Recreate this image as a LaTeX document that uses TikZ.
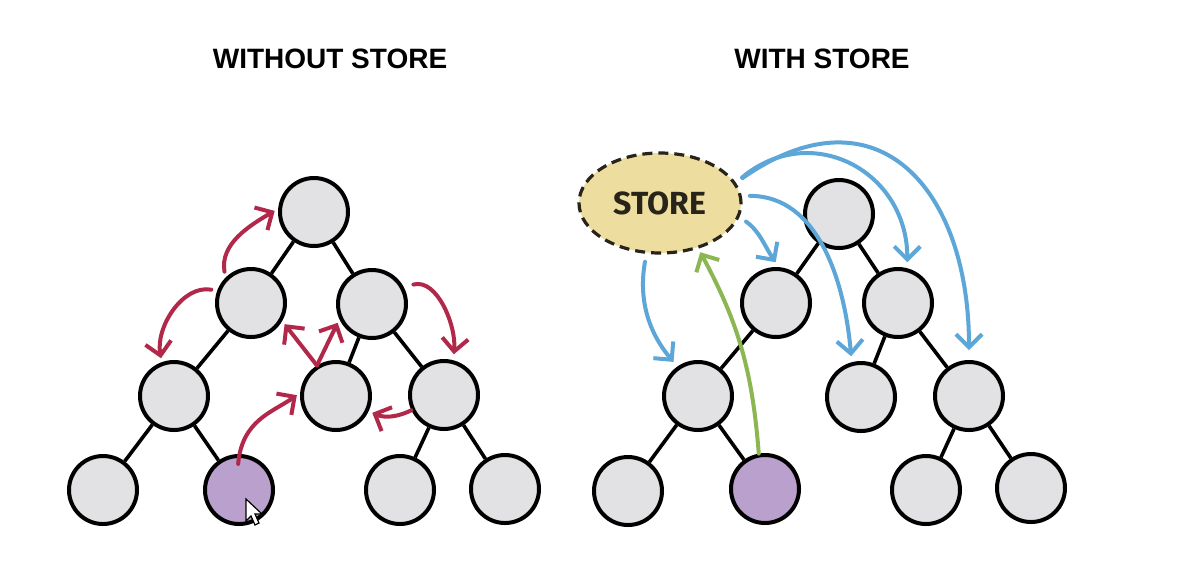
\documentclass[tikz,border=0pt]{standalone}
\usepackage{fontspec}
\setmainfont{Liberation Sans}
\newfontfamily\storefont{Fira Sans}
\usetikzlibrary{shapes.geometric,arrows.meta}

\definecolor{ballgrey}{RGB}{226,226,228}
\definecolor{clickpurple}{RGB}{186,160,204}
\definecolor{hopred}{RGB}{178,40,74}
\definecolor{pushblue}{RGB}{92,166,216}
\definecolor{pullgreen}{RGB}{140,182,82}
\definecolor{storefill}{RGB}{237,222,160}
\definecolor{storeink}{RGB}{40,36,26}

\tikzset{
  ball/.style={circle, draw=black, line width=2pt, fill=ballgrey, minimum size=34pt, inner sep=0pt},
  picked/.style={ball, fill=clickpurple},
  branch/.style={line width=1.8pt, draw=black},
  hop/.style={line width=2pt, draw=hopred, line cap=round, -{Straight Barb[length=6.5pt,width=13pt]}},
  push/.style={line width=2pt, draw=pushblue, line cap=round, -{Straight Barb[length=6.5pt,width=13pt]}, shorten <=4pt, shorten >=3pt},
  pull/.style={line width=2pt, draw=pullgreen, line cap=round, -{Straight Barb[length=6.5pt,width=13pt]}, shorten >=2pt},
  title/.style={font=\bfseries\fontsize{14}{16}\selectfont}
}

\begin{document}
\begin{tikzpicture}[x=0.5pt,y=0.5pt]
    % Page size and background
    \fill[white] (0,0) rectangle (1204,-586);
    \useasboundingbox (0,0) rectangle (1204,-586);

    % Titles
    \node[title] (ttlwithout) at (330,-59) {WITHOUT STORE};
    \node[title] (ttlwith) at (822,-59) {WITH STORE};

    % Left tree
    \node[ball] (ltop) at (314,-212) {};
    \node[ball] (lmidA) at (251,-303) {};
    \node[ball] (lmidB) at (372,-304) {};
    \node[ball] (llowA) at (174,-396) {};
    \node[ball] (llowB) at (336,-396) {};
    \node[ball] (llowC) at (444,-395) {};
    \node[ball] (lleafA) at (103,-490) {};
    \node[picked] (lleafB) at (239,-490) {};
    \node[ball] (lleafC) at (400,-490) {};
    \node[ball] (lleafD) at (505,-489) {};

    \draw[branch] (ltop) -- (lmidA);
    \draw[branch] (ltop) -- (lmidB);
    \draw[branch] (lmidA) -- (llowA);
    \draw[branch] (lmidB) -- (llowB);
    \draw[branch] (lmidB) -- (llowC);
    \draw[branch] (llowA) -- (lleafA);
    \draw[branch] (llowA) -- (lleafB);
    \draw[branch] (llowC) -- (lleafC);
    \draw[branch] (llowC) -- (lleafD);

    % Passing data from node to node
    \draw[hop, shorten <=3pt, shorten >=2pt] (lmidA.135) to[out=100,in=210] (ltop.175);
    \draw[hop, shorten <=3pt, shorten >=2pt] (lmidA.160) to[out=170,in=100] (llowA.110);
    \draw[hop, shorten <=5pt, shorten >=3pt] (lmidB.28) to[out=15,in=85] (llowC.75);
    \draw[hop, shorten >=2pt] (llowB.122) -- (lmidA.330);
    \draw[hop, shorten >=2pt] (llowB.122) -- (lmidB.205);
    \draw[hop, shorten <=-5pt, shorten >=2pt] (lleafB.north) to[out=85,in=215] (llowB.175);
    \draw[hop, shorten >=2pt] (llowC.205) to[bend left=25] (llowB.335);

    % Mouse pointer
    \draw[line width=0.6pt, fill=white] (246,-499) -- (246,-521) -- (251,-516) -- (255,-525)
        -- (259,-523) -- (255,-514) -- (262,-514) -- cycle;

    % Right tree
    \node[ball] (rtop) at (839,-214) {};
    \node[ball] (rmidA) at (776,-303) {};
    \node[ball] (rmidB) at (898,-303) {};
    \node[ball] (rlowA) at (698,-396) {};
    \node[ball] (rlowB) at (861,-397) {};
    \node[ball] (rlowC) at (969,-396) {};
    \node[ball] (rleafA) at (628,-491) {};
    \node[picked] (rleafB) at (765,-489) {};
    \node[ball] (rleafC) at (926,-490) {};
    \node[ball] (rleafD) at (1031,-488) {};

    \draw[branch] (rtop) -- (rmidA);
    \draw[branch] (rtop) -- (rmidB);
    \draw[branch] (rmidA) -- (rlowA);
    \draw[branch] (rmidB) -- (rlowB);
    \draw[branch] (rmidB) -- (rlowC);
    \draw[branch] (rlowA) -- (rleafA);
    \draw[branch] (rlowA) -- (rleafB);
    \draw[branch] (rlowC) -- (rleafC);
    \draw[branch] (rlowC) -- (rleafD);

    % The store
    \node[ellipse, draw=storeink, line width=1.6pt, dash pattern=on 5pt off 3pt, fill=storefill,
          minimum width=81pt, minimum height=50pt, inner sep=0pt,
          font=\storefont\bfseries\fontsize{16}{18}\selectfont, text=storeink] (store) at (660,-203) {STORE};

    % Store sends data out
    \draw[push] (store.255) to[out=260,in=130] (rlowA.125);
    \draw[push] (store.-10) to[out=-35,in=125] (rmidA.85);
    \draw[push] (store.5) to[out=0,in=95] (rlowB.105);
    \draw[push] (store.15) to[out=40,in=90,looseness=1.3] (rmidB.75);
    \draw[push, shorten >=5pt] (store.15) to[out=35,in=90,looseness=1.5] (rlowC.90);

    % Clicked node updates the store
    \draw[pull] (rleafB.100) to[bend right=12] (store.-50);
\end{tikzpicture}
\end{document}
